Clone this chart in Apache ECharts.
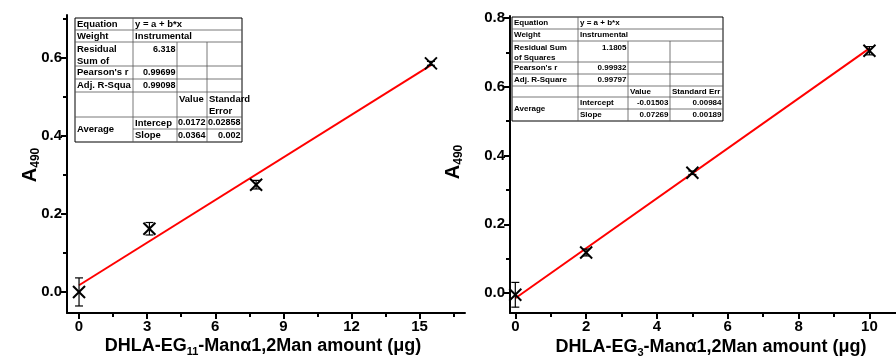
<!DOCTYPE html>
<html>
<head>
<meta charset="utf-8">
<script src="https://cdn.jsdelivr.net/npm/echarts@6/dist/echarts.min.js"></script>
<style>
  html, body { margin: 0; padding: 0; background: #fff; }
  #chart { width: 896px; height: 360px; }
</style>
</head>
<body>
<div id="chart"></div>
<script>
// ---- Panel 1: DHLA-EG11-Manα1,2Man ----
const leftAmount = [0, 3.1, 7.8, 15.5];
const leftA490 = [0.0, 0.162, 0.275, 0.586];
const leftErr = [0.036, 0.016, 0.011, 0.005];
const leftFit = { intercept: 0.0172, slope: 0.0364 };
const leftXTicks = [0, 3, 6, 9, 12, 15];
const leftXMinor = [1.5, 4.5, 7.5, 10.5, 13.5, 16.5];
const leftYTicks = [0, 0.2, 0.4, 0.6];
const leftYMinor = [0.1, 0.3, 0.5, 0.7];

// ---- Panel 2: DHLA-EG3-Manα1,2Man ----
const rightAmount = [0, 2, 5, 10];
const rightA490 = [-0.005, 0.118, 0.35, 0.705];
const rightErr = [0.036, 0.01, 0.005, 0.012];
const rightFit = { intercept: -0.01503, slope: 0.07269 };
const rightXTicks = [0, 2, 4, 6, 8, 10];
const rightXMinor = [1, 3, 5, 7, 9];
const rightYTicks = [0, 0.2, 0.4, 0.6, 0.8];
const rightYMinor = [0.1, 0.3, 0.5, 0.7];

// Fit statistics tables
const leftTable = [
  ['Equation', 'y = a + b*x'],
  ['Weight', 'Instrumental'],
  ['Residual\nSum of', '6.318'],
  ["Pearson's r", '0.99699'],
  ['Adj. R-Squa', '0.99098'],
  ['', '', 'Value', 'Standard\nError'],
  ['Average', 'Intercep', '0.0172', '0.02858'],
  ['', 'Slope', '0.0364', '0.002']
];
const rightTable = [
  ['Equation', 'y = a + b*x'],
  ['Weight', 'Instrumental'],
  ['Residual Sum\nof Squares', '1.1805'],
  ["Pearson's r", '0.99932'],
  ['Adj. R-Square', '0.99797'],
  ['', '', 'Value', 'Standard Err'],
  ['Average', 'Intercept', '-0.01503', '0.00984'],
  ['', 'Slope', '0.07269', '0.00189']
];

const FONT = '"Liberation Sans", Arial, Helvetica, sans-serif';

function fitLine(fit, x0, x1) {
  return [[x0, fit.intercept + fit.slope * x0], [x1, fit.intercept + fit.slope * x1]];
}

function pointsOf(xs, ys, es) {
  return xs.map((x, i) => [x, ys[i], es[i]]);
}

// X-shaped marker with a capped vertical error bar
function renderMarker(params, api) {
  const x = api.value(0), y = api.value(1), e = api.value(2);
  const c = api.coord([x, y]);
  const top = api.coord([x, y + e]);
  const bot = api.coord([x, y - e]);
  const m = 6, cap = 4;
  const st = { stroke: '#000', lineWidth: 2, fill: 'none' };
  const thin = { stroke: '#000', lineWidth: 1.2, fill: 'none' };
  return {
    type: 'group',
    children: [
      { type: 'line', shape: { x1: c[0], y1: top[1], x2: c[0], y2: bot[1] }, style: thin },
      { type: 'line', shape: { x1: c[0] - cap, y1: top[1], x2: c[0] + cap, y2: top[1] }, style: thin },
      { type: 'line', shape: { x1: c[0] - cap, y1: bot[1], x2: c[0] + cap, y2: bot[1] }, style: thin },
      { type: 'line', shape: { x1: c[0] - m, y1: c[1] - m, x2: c[0] + m, y2: c[1] + m }, style: st },
      { type: 'line', shape: { x1: c[0] - m, y1: c[1] + m, x2: c[0] + m, y2: c[1] - m }, style: st }
    ]
  };
}

const labelStyle = { color: '#000', fontFamily: FONT, fontWeight: 'bold', fontSize: 15 };

function xAxes(gridIndex, min, max, ticks, minor) {
  return [
    {
      type: 'value', gridIndex, min, max, position: 'bottom',
      axisLine: { show: true, onZero: false, lineStyle: { color: '#000', width: 2 } },
      axisTick: { show: true, inside: false, length: 6, customValues: ticks, lineStyle: { color: '#000', width: 2 } },
      axisLabel: Object.assign({ show: true, margin: 6, customValues: ticks, formatter: v => String(v) }, labelStyle),
      splitLine: { show: false }
    },
    {
      type: 'value', gridIndex, min, max, position: 'bottom',
      axisLine: { show: false, onZero: false },
      axisTick: { show: true, inside: false, length: 4, customValues: minor, lineStyle: { color: '#000', width: 2 } },
      axisLabel: { show: false },
      splitLine: { show: false }
    }
  ];
}

function yAxes(gridIndex, min, max, ticks, minor) {
  return [
    {
      type: 'value', gridIndex, min, max, position: 'left',
      axisLine: { show: true, onZero: false, lineStyle: { color: '#000', width: 2 } },
      axisTick: { show: true, inside: false, length: 6, customValues: ticks, lineStyle: { color: '#000', width: 2 } },
      axisLabel: Object.assign({ show: true, margin: 5, customValues: ticks, formatter: v => v.toFixed(1) }, labelStyle),
      splitLine: { show: false }
    },
    {
      type: 'value', gridIndex, min, max, position: 'left',
      axisLine: { show: false, onZero: false },
      axisTick: { show: true, inside: false, length: 4, customValues: minor, lineStyle: { color: '#000', width: 2 } },
      axisLabel: { show: false },
      splitLine: { show: false }
    }
  ];
}

// Builds the statistics box as graphic elements
function buildTable(rows, colX, rowY, fontSize, numSize) {
  const els = [];
  const L = colX[0], R = colX[colX.length - 1], T = rowY[0], B = rowY[rowY.length - 1];
  const gridLine = { stroke: '#555', lineWidth: 0.8 };
  els.push({ type: 'rect', shape: { x: L, y: T, width: R - L, height: B - T }, style: { fill: '#fff', stroke: '#000', lineWidth: 1 }, z: 50 });
  // horizontal rules
  for (let r = 1; r < rowY.length - 1; r++) {
    const x1 = (r === 7) ? colX[1] : L;
    els.push({ type: 'line', shape: { x1, y1: rowY[r], x2: R, y2: rowY[r] }, style: gridLine, z: 51 });
  }
  // vertical rules
  els.push({ type: 'line', shape: { x1: colX[1], y1: T, x2: colX[1], y2: B }, style: gridLine, z: 51 });
  for (let c = 2; c < colX.length - 1; c++) {
    els.push({ type: 'line', shape: { x1: colX[c], y1: rowY[2], x2: colX[c], y2: B }, style: gridLine, z: 51 });
  }
  const pad = 1.5;
  rows.forEach((cells, r) => {
    const multiRow = cells.some(t => t.indexOf('\n') >= 0);
    cells.forEach((txt, c) => {
      if (!txt) return;
      let x, align, yTop = rowY[r], yBot = rowY[r + 1];
      if (r === 6 && c === 0) yBot = rowY[8];
      const numeric = /^-?[0-9.]+$/.test(txt);
      const spanning = (r <= 1 && c === 1);
      if (numeric && !spanning) { x = colX[c + 1] - pad; align = 'right'; }
      else { x = colX[c] + pad + 0.5; align = 'left'; }
      const size = numeric ? numSize : fontSize;
      const lh = fontSize + 2;
      const topAligned = multiRow && !(r === 6 && c === 0);
      els.push({
        type: 'text', z: 52,
        x, y: topAligned ? yTop + 1 + (lh - size) / 2 : (yTop + yBot) / 2,
        style: {
          text: txt, fill: '#000', font: 'bold ' + size + 'px ' + FONT,
          align, verticalAlign: topAligned ? 'top' : 'middle', lineHeight: topAligned && !numeric ? lh : size + 2
        }
      });
    });
  });
  return els;
}

const titleRich = (size) => ({
  m: { fontFamily: FONT, fontWeight: 'bold', fontSize: size, fill: '#000' },
  s: { fontFamily: FONT, fontWeight: 'bold', fontSize: Math.round(size * 0.62), fill: '#000', verticalAlign: 'bottom', padding: [0, 0, -2, 0] }
});

const chart = echarts.init(document.getElementById('chart'), null, { renderer: 'canvas' });

const graphics = []
  .concat(buildTable(leftTable, [75, 133, 177, 207, 242], [18, 30, 42, 66, 79, 92, 117, 129, 142], 9.5, 9))
  .concat(buildTable(rightTable, [512, 578, 628, 670, 723], [17, 29, 41, 62, 74, 86, 97, 109, 121], 8, 8))
  .concat([
    {
      type: 'text', x: 30, y: 165, rotation: Math.PI / 2, z: 60,
      style: { text: '{m|A}{s|490}', rich: titleRich(20), align: 'center', verticalAlign: 'middle' }
    },
    {
      type: 'text', x: 453, y: 162, rotation: Math.PI / 2, z: 60,
      style: { text: '{m|A}{s|490}', rich: titleRich(20), align: 'center', verticalAlign: 'middle' }
    },
    {
      type: 'text', x: 263, y: 346, z: 60,
      style: {
        text: '{m|DHLA-EG}{s|11}{m|-Manα1,2Man amount (μg)}', rich: titleRich(18),
        align: 'center', verticalAlign: 'middle'
      }
    },
    {
      type: 'text', x: 711, y: 347, z: 60,
      style: {
        text: '{m|DHLA-EG}{s|3}{m|-Manα1,2Man amount (μg)}', rich: titleRich(18),
        align: 'center', verticalAlign: 'middle'
      }
    }
  ]);

chart.setOption({
  animation: false,
  backgroundColor: '#fff',
  grid: [
    { left: 67, top: 15, width: 398, bottom: 47 },
    { left: 510, top: 16, right: 0, bottom: 47 }
  ],
  xAxis: []
    .concat(xAxes(0, -0.53, 17.0, leftXTicks, leftXMinor))
    .concat(xAxes(1, -0.15, 10.75, rightXTicks, rightXMinor)),
  yAxis: []
    .concat(yAxes(0, -0.054, 0.71, leftYTicks, leftYMinor))
    .concat(yAxes(1, -0.058, 0.806, rightYTicks, rightYMinor)),
  series: [
    {
      type: 'line', xAxisIndex: 0, yAxisIndex: 0, symbol: 'none',
      data: fitLine(leftFit, leftAmount[0], leftAmount[leftAmount.length - 1]),
      lineStyle: { color: '#ff0000', width: 2 }, z: 3
    },
    {
      type: 'custom', xAxisIndex: 0, yAxisIndex: 0,
      data: pointsOf(leftAmount, leftA490, leftErr), renderItem: renderMarker, z: 4
    },
    {
      type: 'line', xAxisIndex: 2, yAxisIndex: 2, symbol: 'none',
      data: fitLine(rightFit, rightAmount[0], rightAmount[rightAmount.length - 1]),
      lineStyle: { color: '#ff0000', width: 2 }, z: 3
    },
    {
      type: 'custom', xAxisIndex: 2, yAxisIndex: 2,
      data: pointsOf(rightAmount, rightA490, rightErr), renderItem: renderMarker, z: 4
    }
  ],
  graphic: graphics
});
</script>
</body>
</html>
